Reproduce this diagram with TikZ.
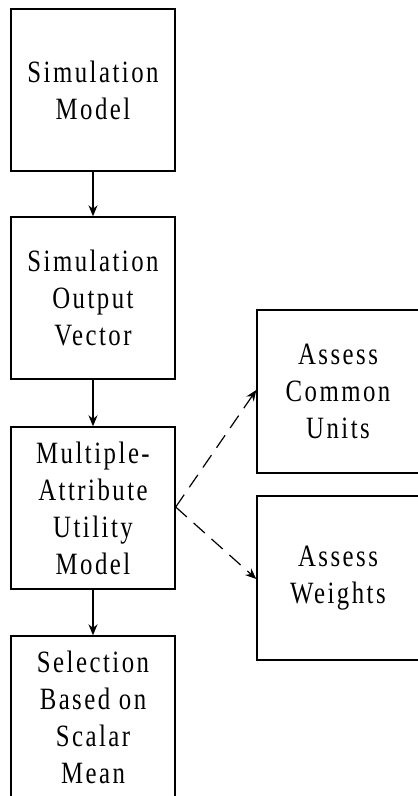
\documentclass[tikz,border=0pt]{standalone}
\usepackage{fontspec}
\setmainfont{Liberation Serif}[LetterSpace=8,FakeStretch=0.8]
\usetikzlibrary{arrows.meta}
\begin{document}
\begin{tikzpicture}[x=1pt,y=-1pt,
  box/.style={draw, line width=1.4pt, minimum width=164pt, inner sep=0pt, align=center,
    font=\fontsize{31}{37}\selectfont},
  flow/.style={line width=1.2pt, -{Stealth[length=11pt,width=9pt]}},
  dflow/.style={line width=1.2pt, dash pattern=on 15pt off 9pt, -{Stealth[length=11pt,width=9pt]}}]
\useasboundingbox (0,0) rectangle (418,796);
\clip (0,0) rectangle (418,796);
\node[box, minimum height=162pt] (sm) at (93,90) {Simulation\\Model};
\node[box, minimum height=162pt] (sov) at (93,298) {Simulation\\Output\\Vector};
\node[box, minimum height=162pt] (mau) at (93,508) {Multiple-\\Attribute\\Utility\\Model};
\node[box, minimum height=162pt] (sel) at (93,717) {Selection\\Based on\\Scalar\\Mean};
\node[box, minimum width=162pt, minimum height=163pt] (acu) at (338,391.5) {Assess\\Common\\Units};
\node[box, minimum width=162pt, minimum height=164pt] (aw) at (338,578) {Assess\\Weights};
\coordinate (src) at ([yshift=1pt]mau.east);
\coordinate (t1) at ([yshift=1.5pt]acu.west);
\coordinate (t2) at ([yshift=-1pt]aw.west);
\draw[flow] (sm) -- (sov);
\draw[flow] (sov) -- (mau);
\draw[flow] (mau) -- (sel);
\draw[dflow] (src) -- (t1);
\draw[dflow] (src) -- (t2);
\end{tikzpicture}
\end{document}
